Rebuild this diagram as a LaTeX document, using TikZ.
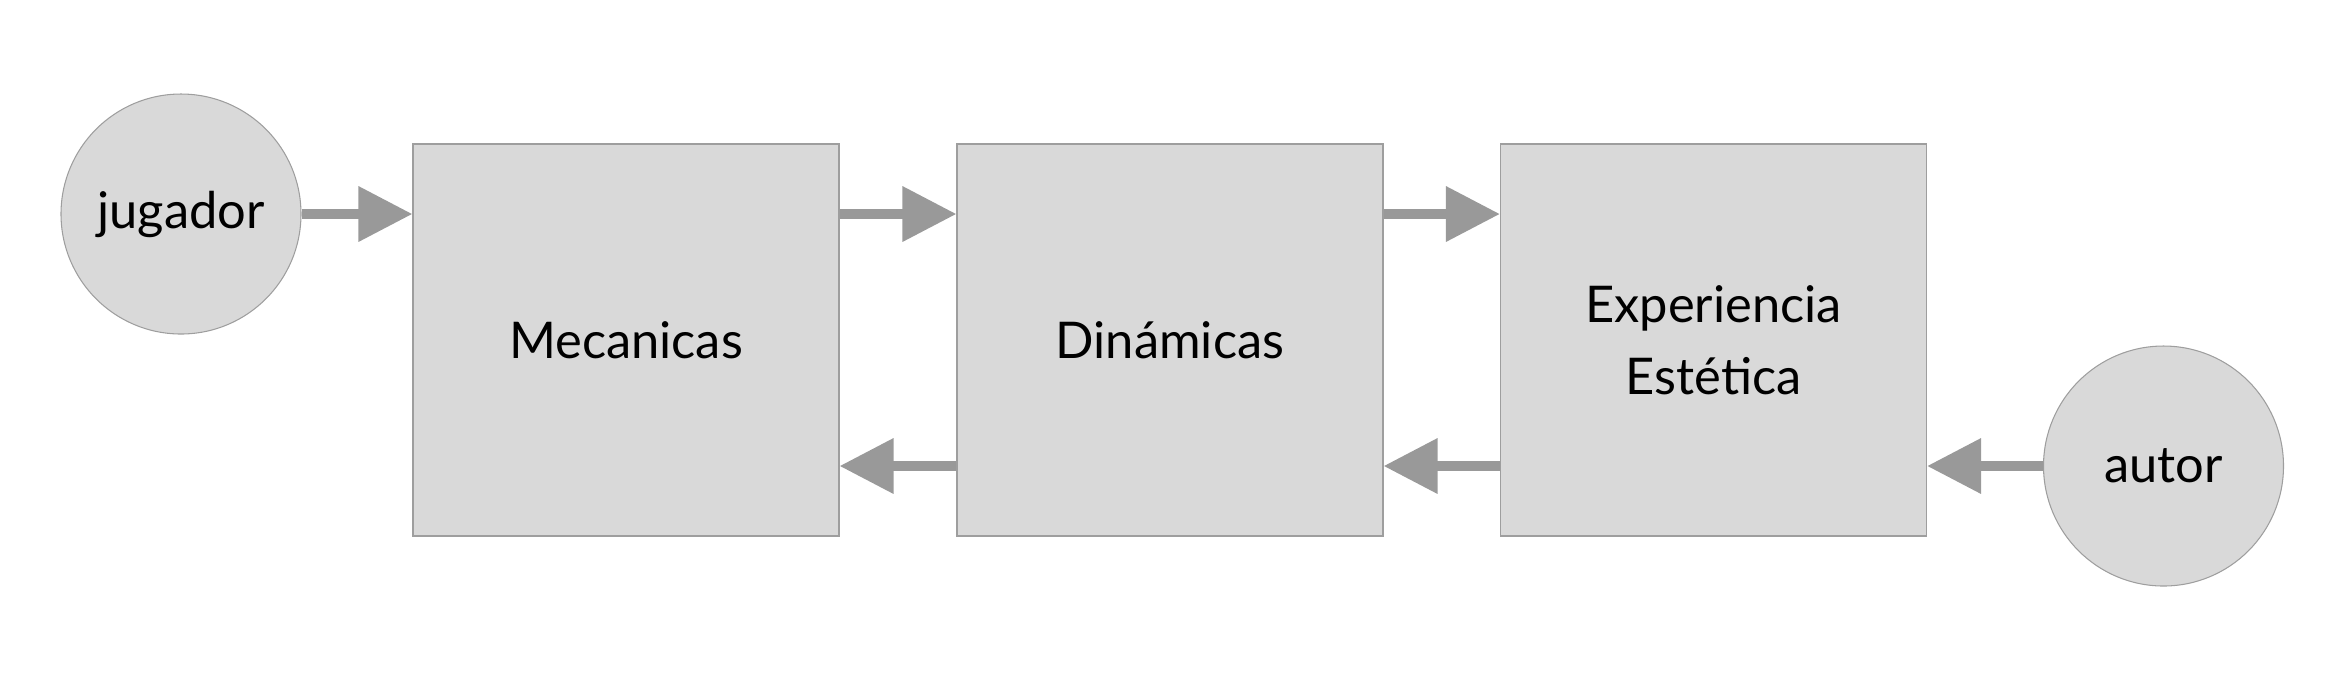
\documentclass[tikz,border=0pt]{standalone}
\usepackage{fontspec}
\setmainfont{Lato}
\usetikzlibrary{arrows.meta}
\definecolor{relleno}{HTML}{D9D9D9}
\definecolor{borde}{HTML}{9E9E9E}
\definecolor{flechagris}{HTML}{999999}
\tikzset{caja/.append style={draw=borde, fill=relleno, line width=0.3pt, minimum width=4.26cm, minimum height=3.92cm, align=center, font=\fontsize{14.4}{20.5}\selectfont}}
\tikzset{actor/.append style={draw=borde, fill=relleno, line width=0.3pt, circle, minimum size=2.40cm, inner sep=0pt, font=\fontsize{14.4}{20.5}\selectfont}}
\tikzset{flecha/.append style={draw=flechagris, line width=0.1cm, -{Triangle[length=0.54cm,width=0.53cm]}}}

\begin{document}
\begin{tikzpicture}
                \useasboundingbox (0,0) rectangle (23.49,-6.80);
                % nodos
                \node[actor] (jug) at (1.81,-2.14) {jugador};
                \node[caja] (mec) at (6.26,-3.40) {Mecanicas};
                \node[caja] (din) at (11.70,-3.40) {Dinámicas};
                \node[caja] (exp) at (17.135,-3.40) {Experiencia\\Estética};
                \node[actor] (aut) at (21.635,-4.66) {autor};
                % flechas de ida
                \draw[flecha] (jug.east) -- (jug.east -| mec.west);
                \draw[flecha] ([yshift=1.26cm]mec.east) -- ([yshift=1.26cm]din.west);
                \draw[flecha] ([yshift=1.26cm]din.east) -- ([yshift=1.26cm]exp.west);
                % flechas de vuelta
                \draw[flecha] ([yshift=-1.26cm]din.west) -- ([yshift=-1.26cm]mec.east);
                \draw[flecha] ([yshift=-1.26cm]exp.west) -- ([yshift=-1.26cm]din.east);
                \draw[flecha] (aut.west) -- (aut.west -| exp.east);
            \end{tikzpicture}
\end{document}
